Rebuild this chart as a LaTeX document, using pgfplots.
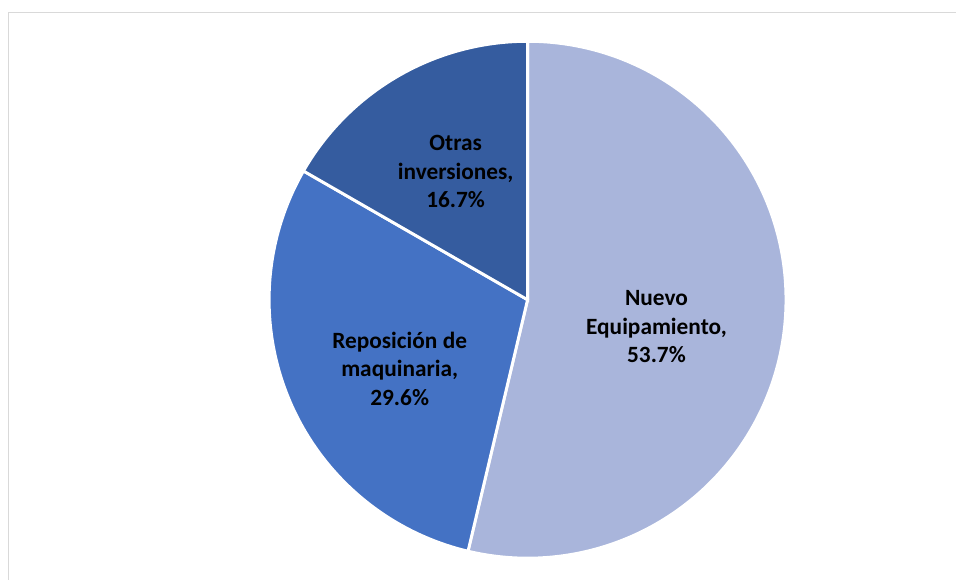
\documentclass[border=0pt]{standalone}
\usepackage{pgfplots}
\usepackage{pgfplotstable}
\pgfplotsset{compat=1.18}
\usepackage{fontspec}
\setmainfont{Carlito}

\definecolor{nuevo}{HTML}{A9B5DB}
\definecolor{repos}{HTML}{4472C4}
\definecolor{otras}{HTML}{355C9F}
\definecolor{marco}{HTML}{D9D9D9}

% participacion de cada tipo de inversion (%)
\pgfplotstableread{
share
53.7
29.6
16.7
}\piedata

\pgfplotstablegetelem{0}{share}\of\piedata \let\sA\pgfplotsretval
\pgfplotstablegetelem{1}{share}\of\piedata \let\sB\pgfplotsretval
\pgfplotstablegetelem{2}{share}\of\piedata \let\sC\pgfplotsretval
\pgfmathsetmacro\aA{90}
\pgfmathsetmacro\aB{\aA-3.6*\sA}
\pgfmathsetmacro\aC{\aB-3.6*\sB}
\pgfmathsetmacro\aD{\aC-3.6*\sC}

\begin{document}
\begin{tikzpicture}
\begin{axis}[
  x=0.75pt, y=0.75pt, scale only axis,
  xmin=0, xmax=957, ymin=0, ymax=580,
  hide axis, clip=false,
]
\path (axis cs:0,0) rectangle (axis cs:957,580);
% marco del grafico
\draw[marco, line width=1.2pt] (axis cs:8.5,0) -- (axis cs:8.5,567.5) -- (axis cs:957,567.5);

\def\R{194pt}
\filldraw[fill=nuevo, draw=white, line width=2.2pt] (axis cs:528,280) -- ++(\aA:\R) arc[start angle=\aA, end angle=\aB, radius=\R] -- cycle;
\filldraw[fill=repos, draw=white, line width=2.2pt] (axis cs:528,280) -- ++(\aB:\R) arc[start angle=\aB, end angle=\aC, radius=\R] -- cycle;
\filldraw[fill=otras, draw=white, line width=2.2pt] (axis cs:528,280) -- ++(\aC:\R) arc[start angle=\aC, end angle=\aD, radius=\R] -- cycle;

\begin{scope}[every node/.style={align=center, font=\fontsize{17.5}{21.4}\selectfont\bfseries}]
\node at (axis cs:657,253) {Nuevo\\Equipamiento,\\53.7\%};
\node at (axis cs:400,211) {Reposición de\\maquinaria,\\29.6\%};
\node at (axis cs:456,408) {Otras\\inversiones,\\16.7\%};
\end{scope}
\end{axis}
\end{tikzpicture}
\end{document}
